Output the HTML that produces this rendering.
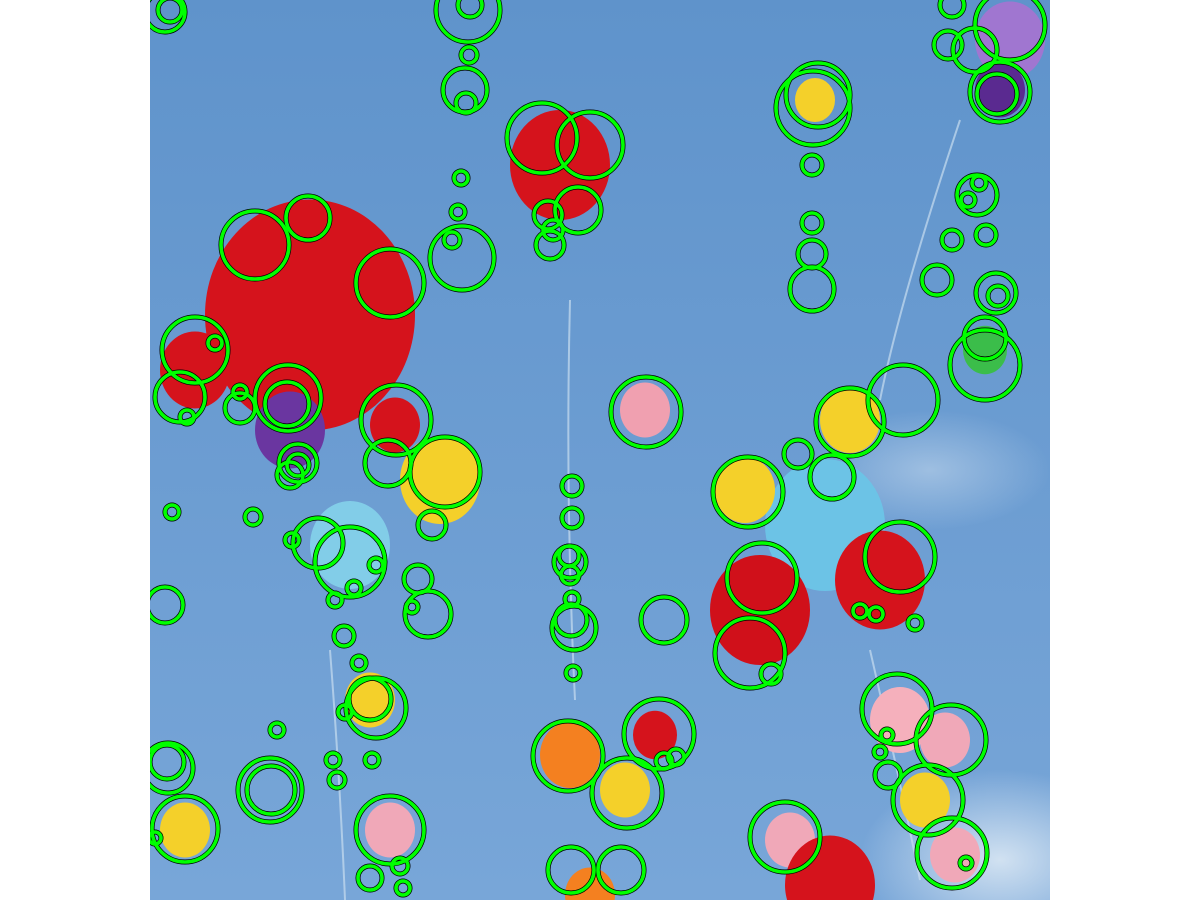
<!DOCTYPE html>
<html><head><meta charset="utf-8"><style>
html,body{margin:0;padding:0;background:#fff;width:1200px;height:900px;overflow:hidden}
svg{position:absolute;left:0;top:0;display:block;overflow:hidden}
</style></head><body>
<svg width="1200" height="900" viewBox="0 0 1200 900">
<defs>
<linearGradient id="sky" x1="0" y1="0" x2="0" y2="1">
<stop offset="0" stop-color="#5f93cb"/><stop offset="1" stop-color="#78a6d8"/>
</linearGradient>
<radialGradient id="cloud"><stop offset="0" stop-color="#dbe8f4" stop-opacity="0.9"/><stop offset="1" stop-color="#dbe8f4" stop-opacity="0"/></radialGradient>
<clipPath id="clip"><rect x="150" y="0" width="900" height="900"/></clipPath>
</defs>
<g clip-path="url(#clip)">
<rect x="150" y="0" width="900" height="900" fill="url(#sky)"/>
<ellipse cx="1000" cy="860" rx="140" ry="90" fill="url(#cloud)"/>
<ellipse cx="930" cy="470" rx="120" ry="60" fill="url(#cloud)" opacity="0.5"/>
<g stroke="#c8ddf0" stroke-width="2" opacity="0.7" fill="none">
<path d="M570 300 Q565 500 575 700"/><path d="M330 650 Q340 780 345 900"/><path d="M870 650 Q900 780 920 880"/><path d="M960 120 Q900 300 880 400"/>
</g>
<g id="balloons"></g>
</g>
<g id="blobs" clip-path="url(#clip)"></g>
</svg>
<script>
const balloonX=[310,560,195,290,395,440,350,825,850,745,760,880,645,815,1010,1000,985,370,570,655,625,390,185,900,945,925,955,790,830,590];
const balloonY=[315,165,370,430,425,480,545,525,420,490,610,580,410,100,40,90,350,700,755,735,790,830,830,720,740,800,855,840,885,895];
const balloonR=[105,50,35,35,25,40,40,60,30,30,50,45,25,20,35,25,22,25,30,22,25,25,25,30,25,25,25,25,45,25];
const balloonC=["#d5131c","#d5131c","#d5131c","#6a36a0","#d5131c","#f4d02a","#82cde8","#6cc3e6","#f4d02a","#f4d02a","#d0101a","#d5131c","#f0a0b0","#f4d02a","#a076d0","#5a2a90","#3bbd4a","#f4d02a","#f48020","#d5131c","#f4d02a","#f0a8b8","#f4d02a","#f5b0bc","#f0a8b8","#f4d02a","#f0a8b8","#f0a8b8","#d5131c","#f48020"];
const blobX=[165,170,468,470,465,466,469,542,590,578,548,550,553,461,458,462,452,255,308,390,195,215,180,187,240,240,288,287,298,298,290,396,388,445,432,172,253,292,318,350,376,335,354,165,418,428,412,344,359,376,370,345,277,333,337,372,270,271,168,167,185,155,390,370,400,403,572,572,569,570,570,572,571,574,573,646,664,659,664,676,568,627,571,621,818,813,812,812,812,812,850,903,832,798,748,762,750,771,900,860,876,915,897,951,887,880,888,928,952,966,785,952,1010,975,948,1000,997,977,979,968,952,986,937,996,998,985,985];
const blobY=[12,10,10,5,90,103,55,138,145,210,215,245,230,178,212,258,240,245,218,283,350,343,397,417,408,392,398,404,463,465,475,420,463,472,525,512,517,540,543,562,565,600,588,605,579,614,607,636,663,708,699,712,730,760,780,760,790,790,768,762,829,838,830,878,866,888,486,518,556,562,575,599,620,628,673,412,620,734,761,757,756,793,870,870,95,108,165,223,254,289,422,400,477,454,492,578,653,674,557,611,614,623,709,740,735,752,775,800,853,863,837,5,25,50,45,92,94,195,183,200,240,235,280,293,296,338,365];
const blobR=[20,12,32,12,22,10,8,35,33,23,14,14,10,7,7,32,8,34,22,34,33,7,25,7,15,7,33,22,19,11,13,35,23,35,14,7,8,7,25,35,7,7,7,18,14,23,6,10,7,30,21,7,7,7,8,7,32,24,25,17,33,6,34,12,8,7,10,10,10,16,9,7,16,22,7,35,23,35,8,8,35,35,23,23,32,37,10,10,14,22,34,35,22,14,35,35,35,10,35,7,7,7,35,35,6,6,13,35,35,6,35,12,35,22,14,30,20,20,7,7,10,10,15,20,10,21,35];
const NS="http://www.w3.org/2000/svg";
const bg=document.getElementById('balloons');
for(let i=0;i<balloonX.length;i++){
 const c=document.createElementNS(NS,'ellipse');
 c.setAttribute('cx',balloonX[i]);c.setAttribute('cy',balloonY[i]);
 c.setAttribute('rx',balloonR[i]);c.setAttribute('ry',balloonR[i]*1.1);
 c.setAttribute('fill',balloonC[i]);
 
 
 bg.appendChild(c);
}
const g=document.getElementById('blobs');
for(let i=0;i<blobX.length;i++){
 const o=document.createElementNS(NS,'circle');
 o.setAttribute('cx',blobX[i]);o.setAttribute('cy',blobY[i]);o.setAttribute('r',blobR[i]);
 o.setAttribute('fill','none');o.setAttribute('stroke','#000');o.setAttribute('stroke-width','5');
 
 
 g.appendChild(o);
}
for(let i=0;i<blobX.length;i++){
 const c=document.createElementNS(NS,'circle');
 c.setAttribute('cx',blobX[i]);c.setAttribute('cy',blobY[i]);c.setAttribute('r',blobR[i]);
 c.setAttribute('fill','none');c.setAttribute('stroke','#00ff00');c.setAttribute('stroke-width','3.6');
 
 
 g.appendChild(c);
}
</script>
</body></html>
